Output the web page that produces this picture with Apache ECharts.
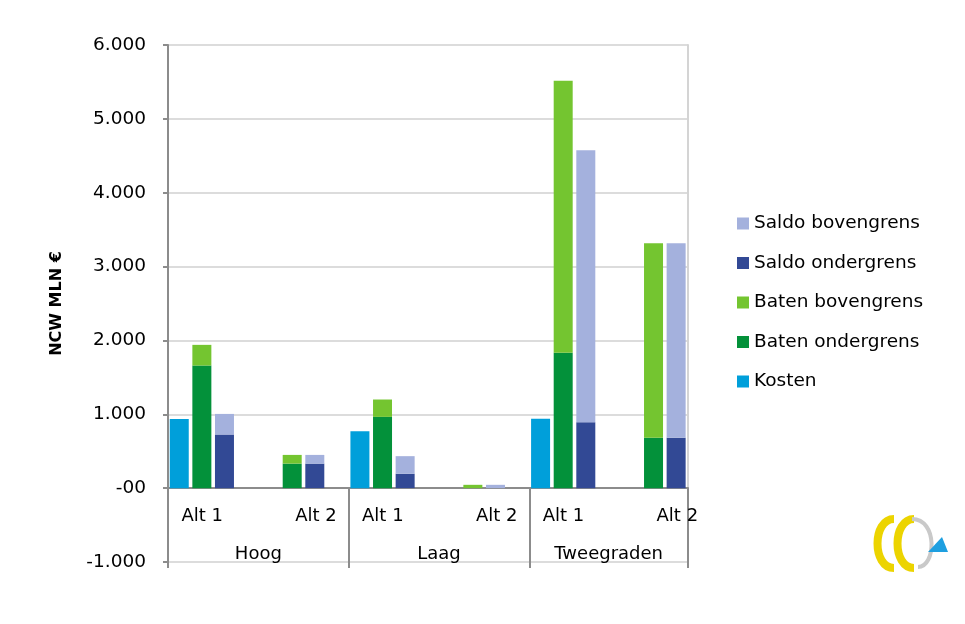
<!DOCTYPE html>
<html>
<head>
<meta charset="utf-8">
<script src="https://cdn.jsdelivr.net/npm/echarts@6/dist/echarts.min.js"></script>
<style>
  html, body { margin: 0; padding: 0; background: #ffffff; }
  #main { width: 965px; height: 624px; }
</style>
</head>
<body>
<div id="main"></div>
<script>
// gegevens (NCW in mln euro)
var groepen = ['Hoog', 'Laag', 'Tweegraden'];
var categorieen = ['Hoog|Alt 1', 'Hoog|Alt 2', 'Laag|Alt 1', 'Laag|Alt 2', 'Tweegraden|Alt 1', 'Tweegraden|Alt 2'];
var kosten = [935, 0, 770, 0, 940, 0];
var batenOnder = [1660, 332, 965, 0, 1832, 681];
var batenBoven = [280, 118, 235, 45, 3683, 2636];
var saldoOnder = [725, 332, 195, 0, 892, 681];
var saldoBoven = [280, 118, 238, 45, 3683, 2636];
var yMin = -1000, yMax = 6000, yStap = 1000;

var fontNaam = 'DejaVu Sans';
var asKleur = '#8c8c8c';

// hulp-as met kwartslots voor de groepsnamen en scheidingslijnen
var groepAs = [];
for (var i = 0; i <= categorieen.length * 4; i++) {
    groepAs.push(i % 8 === 4 ? groepen[(i - 4) / 8] : '');
}

var myChart = echarts.init(document.getElementById('main'));

var option = {
    backgroundColor: '#ffffff',
    animation: false,
    textStyle: { fontFamily: fontNaam },
    grid: [
        { left: 168, right: 277, top: 45, bottom: 62 },  // rasterlijnen
        { left: 168, right: 255, top: 45, bottom: 62 }   // staven
    ],
    legend: {
        orient: 'vertical',
        left: 737,
        top: 214,
        padding: 0,
        itemWidth: 12,
        itemHeight: 12,
        itemGap: 20.5,
        icon: 'rect',
        textStyle: { fontSize: 18.5, color: '#000', fontFamily: fontNaam },
        data: ['Saldo bovengrens', 'Saldo ondergrens', 'Baten bovengrens', 'Baten ondergrens', 'Kosten']
    },
    xAxis: [
        {
            // nullijn, alleen tot de rechterrand van het raster
            gridIndex: 0,
            type: 'category',
            data: categorieen,
            position: 'bottom',
            offset: -74,
            axisLine: { show: true, onZero: false, lineStyle: { color: asKleur, width: 2 } },
            axisTick: { show: false },
            axisLabel: { show: false }
        },
        {
            gridIndex: 1,
            type: 'category',
            data: categorieen,
            position: 'bottom',
            offset: -74,
            axisLine: { show: false, onZero: false },
            axisTick: { show: false },
            axisLabel: {
                interval: 0,
                margin: 19,
                color: '#000',
                fontSize: 18,
                formatter: function (v) {
                    var alt = v.split('|')[1];
                    return alt === 'Alt 1' ? '{a|' + alt + '}' : '{b|' + alt + '}';
                },
                rich: {
                    a: { fontSize: 18, color: '#000', padding: [0, 22, 0, 0] },
                    b: { fontSize: 18, color: '#000', padding: [0, 0, 0, 25] }
                }
            }
        },
        {
            gridIndex: 1,
            type: 'category',
            boundaryGap: false,
            data: groepAs,
            position: 'bottom',
            offset: -74,
            axisLine: { show: false, onZero: false },
            axisTick: {
                show: true,
                length: 80,
                interval: function (idx) { return idx === 0 || idx === 8 || idx === 16 || idx === 23; },
                lineStyle: { color: asKleur, width: 2 }
            },
            axisLabel: {
                margin: 57,
                color: '#000',
                fontSize: 18,
                interval: function (idx) { return idx % 8 === 4; },
                formatter: function (v) {
                    return v === 'Tweegraden' ? '{t|' + v + '}' : v;
                },
                rich: { t: { fontSize: 18, color: '#000', padding: [0, 22, 0, 0] } }
            }
        }
    ],
    yAxis: [
        {
            gridIndex: 0,
            type: 'value',
            min: yMin, max: yMax, interval: yStap,
            name: 'NCW MLN €',
            nameLocation: 'middle',
            nameGap: 103,
            nameTextStyle: { fontSize: 16, fontWeight: 'bold', color: '#000', fontFamily: fontNaam },
            axisLine: { show: true, lineStyle: { color: asKleur, width: 2 } },
            axisTick: { show: true, length: 5, lineStyle: { color: asKleur, width: 2 } },
            splitLine: { show: true, lineStyle: { color: '#dcdcdc', width: 2 } },
            axisLabel: {
                margin: 22,
                color: '#000',
                fontSize: 18.5,
                formatter: function (v) {
                    if (v === 0) return '-00';
                    return (v < 0 ? '-' : '') + Math.abs(v) / 1000 + '.000';
                }
            }
        },
        {
            gridIndex: 0,
            type: 'value',
            position: 'right',
            min: yMin, max: yMax, interval: yStap,
            axisLine: { show: true, lineStyle: { color: '#d4d4d4', width: 2 } },
            axisTick: { show: false },
            axisLabel: { show: false },
            splitLine: { show: false }
        },
        {
            gridIndex: 1,
            type: 'value',
            min: yMin, max: yMax, interval: yStap,
            show: false,
            splitLine: { show: false }
        }
    ],
    series: [
        { name: 'Kosten', type: 'bar', xAxisIndex: 1, yAxisIndex: 2, stack: 'kosten', data: kosten,
          barWidth: 19, barGap: '19%', itemStyle: { color: '#009fda' } },
        { name: 'Baten ondergrens', type: 'bar', xAxisIndex: 1, yAxisIndex: 2, stack: 'baten', data: batenOnder,
          barWidth: 19, itemStyle: { color: '#03913a' } },
        { name: 'Baten bovengrens', type: 'bar', xAxisIndex: 1, yAxisIndex: 2, stack: 'baten', data: batenBoven,
          barWidth: 19, itemStyle: { color: '#74c530' } },
        { name: 'Saldo ondergrens', type: 'bar', xAxisIndex: 1, yAxisIndex: 2, stack: 'saldo', data: saldoOnder,
          barWidth: 19, itemStyle: { color: '#324995' } },
        { name: 'Saldo bovengrens', type: 'bar', xAxisIndex: 1, yAxisIndex: 2, stack: 'saldo', data: saldoBoven,
          barWidth: 19, itemStyle: { color: '#a4b1dd' } },
        // lege vierde kolom (zoals in het origineel)
        { name: 'leeg', type: 'bar', xAxisIndex: 1, yAxisIndex: 2, stack: 'leeg',
          data: categorieen.map(function () { return null; }),
          barWidth: 19, itemStyle: { color: 'transparent' } }
    ],
    graphic: [
        // logo rechtsonder
        { type: 'bezierCurve', silent: true,
          shape: { x1: 894, y1: 519, x2: 894, y2: 568, cpx1: 872, cpy1: 519, cpx2: 872, cpy2: 568 },
          style: { stroke: '#ecd400', lineWidth: 8, fill: null } },
        { type: 'bezierCurve', silent: true,
          shape: { x1: 914, y1: 519, x2: 914, y2: 568, cpx1: 892, cpy1: 519, cpx2: 892, cpy2: 568 },
          style: { stroke: '#ecd400', lineWidth: 8, fill: null } },
        { type: 'bezierCurve', silent: true,
          shape: { x1: 912, y1: 519, x2: 918, y2: 567, cpx1: 938, cpy1: 519, cpx2: 936, cpy2: 567 },
          style: { stroke: '#c9c9c9', lineWidth: 4, fill: null } },
        { type: 'polygon', silent: true,
          shape: { points: [[928, 552], [948, 552], [942, 537]] },
          style: { fill: '#1e9fe0' } }
    ]
};

myChart.setOption(option);
</script>
</body>
</html>
